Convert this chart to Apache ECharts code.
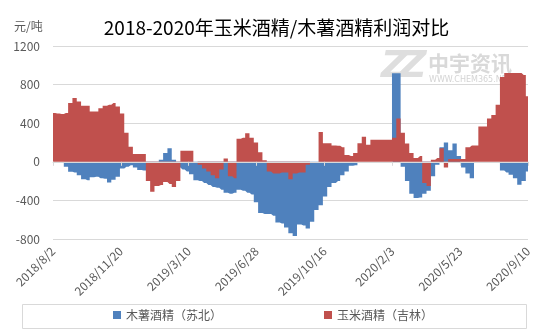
<!DOCTYPE html>
<html>
<head>
<meta charset="utf-8">
<script src="https://cdn.jsdelivr.net/npm/echarts@6/dist/echarts.min.js"></script>
<style>
  html, body { margin: 0; padding: 0; background: #ffffff; }
  #chart { width: 553px; height: 332px; }
</style>
</head>
<body>
<div id="chart"></div>
<script>
// Weekly profit samples (元/吨), first sample on 2018/8/2, one every 7 days.
const sampleStepDays = 7;
const axisSpanDays = 770;
const tickStepDays = 110;
const tickLabels = ['2018/8/2', '2018/11/20', '2019/3/10', '2019/6/28', '2019/10/16', '2020/2/3', '2020/5/23', '2020/9/10'];
const seriesNames = ['木薯酒精（苏北）', '玉米酒精（吉林）'];

// 木薯酒精（苏北）
const cassavaProfit = [
  0, 0, 0, -50, -104, -110, -140, -180, -190, -160,
  -155, -170, -175, -215, -185, -155, -70, -50, -35, -60,
  -85, -90, -110, -100, -80, 20, 90, 140, 20, -60,
  -80, -100, -130, -190, -200, -220, -240, -260, -270, -290,
  -320, -330, -320, -290, -300, -320, -340, -420, -530, -540,
  -540, -560, -630, -640, -680, -740, -770, -650, -660, -690,
  -620, -500, -450, -360, -260, -220, -200, -140, -100, -40,
  -35, 0, 0, 0, 0, 0, 0, 0, 0, 918,
  918, -50, -200, -330, -376, -370, -330, -300, -150, -30,
  150, 200, 120, 190, 60, -60, -120, -170, 0, 0,
  0, 0, 0, 0, -90, -110, -135, -170, -238, -200,
  -100
];

// 玉米酒精（吉林）
const cornProfit = [
  505, 500, 495, 505, 609, 661, 626, 581, 581, 522,
  522, 556, 580, 591, 609, 574, 500, 300, 156, 80,
  80, 80, -200, -310, -250, -240, -210, -230, -260, -200,
  115, 115, 115, 0, -30, -70, -100, -140, -170, -80,
  35, -150, -170, 240, 250, 295, 250, 200, 100, 15,
  -100, -120, -120, -110, -110, -180, -120, -110, -110, -30,
  0, 0, 310, 193, 193, 170, 166, 150, 70, 60,
  90, 193, 260, 176, 228, 228, 228, 228, 228, 250,
  450, 300, 190, 90, 40, 60, -220, -250, 20, 40,
  140, -60, 30, 30, 30, 30, 150, 170, 170, 366,
  366, 450, 486, 590, 880, 920, 920, 920, 920, 900,
  680
];

const yMin = -800, yMax = 1200, yStep = 400;

const FONT = '"Noto Sans CJK SC", "Noto Sans", sans-serif';
const BLUE = '#4F81BD';
const RED = '#C0504D';
const TEXT = '#595959';
const GRID = '#d9d9d9';

const toPairs = arr => arr.map((v, i) => [i * sampleStepDays, v]);

const chart = echarts.init(document.getElementById('chart'), null, { renderer: 'canvas' });

const areaSeries = (name, values, color) => ({
  name: name,
  type: 'line',
  data: toPairs(values),
  step: 'middle',
  symbol: 'none',
  showSymbol: false,
  lineStyle: { width: 0, color: color },
  itemStyle: { color: color },
  areaStyle: { color: color, opacity: 1 },
  z: 2
});

chart.setOption({
  animation: false,
  backgroundColor: '#ffffff',
  title: {
    text: '2018-2020年玉米酒精/木薯酒精利润对比',
    left: 'center',
    top: 13,
    textStyle: { fontSize: 19, fontWeight: 'normal', color: '#000000', fontFamily: FONT }
  },
  grid: { left: 53, right: 25, top: 46, bottom: 93, containLabel: false },
  legend: {
    data: seriesNames,
    left: 113,
    top: 309,
    padding: 0,
    icon: 'rect',
    itemWidth: 8,
    itemHeight: 8,
    itemGap: 102,
    textStyle: { fontSize: 12, color: TEXT, fontFamily: FONT }
  },
  xAxis: [
    {
      type: 'value',
      min: 0,
      max: axisSpanDays,
      interval: tickStepDays,
      position: 'bottom',
      axisLine: { show: false, onZero: false },
      axisTick: { show: false },
      splitLine: { show: false },
      axisLabel: {
        rotate: 45,
        margin: 10,
        fontSize: 12,
        color: TEXT,
        fontFamily: FONT,
        formatter: v => tickLabels[Math.round(v / tickStepDays)]
      }
    },
    {
      type: 'value',
      min: 0,
      max: axisSpanDays,
      interval: tickStepDays,
      position: 'bottom',
      z: 10,
      axisLine: { show: true, onZero: true, lineStyle: { color: GRID, width: 1 } },
      axisTick: { show: true, length: 4, lineStyle: { color: GRID } },
      axisLabel: { show: false },
      splitLine: { show: false }
    }
  ],
  yAxis: {
    type: 'value',
    min: yMin,
    max: yMax,
    interval: yStep,
    axisLine: { show: false },
    axisTick: { show: false },
    splitLine: { lineStyle: { color: GRID, width: 1 } },
    axisLabel: { fontSize: 12, color: TEXT, fontFamily: FONT, margin: 13, formatter: v => String(v) }
  },
  graphic: [
    {
      type: 'text', left: 14, top: 20, z: 5,
      style: { text: '元/吨', font: '12px ' + FONT, fill: TEXT }
    },
    {
      type: 'rect', z: 0, silent: true,
      shape: { x: 22.5, y: 304.5, width: 504, height: 24 },
      style: { fill: 'none', stroke: GRID, lineWidth: 1 }
    },
    {
      type: 'text', left: 381, top: 48, z: 0, silent: true,
      style: { text: 'Z', font: 'italic 900 38px "DejaVu Sans", sans-serif', fill: '#dedede' }
    },
    {
      type: 'text', left: 399, top: 48, z: 0, silent: true,
      style: { text: 'Z', font: 'italic 900 38px "DejaVu Sans", sans-serif', fill: '#dedede' }
    },
    {
      type: 'text', left: 428, top: 53, z: 0, silent: true,
      style: { text: '中宇资讯', font: 'bold 21px ' + FONT, fill: '#d9d9d9' }
    },
    {
      type: 'text', left: 429, top: 76, z: 0, silent: true,
      style: { text: 'WWW.CHEM365.NET', font: '8px "DejaVu Sans", sans-serif', fill: '#d4d4d4' }
    }
  ],
  series: [
    areaSeries(seriesNames[0], cassavaProfit, BLUE),
    areaSeries(seriesNames[1], cornProfit, RED)
  ]
});
</script>
</body>
</html>
